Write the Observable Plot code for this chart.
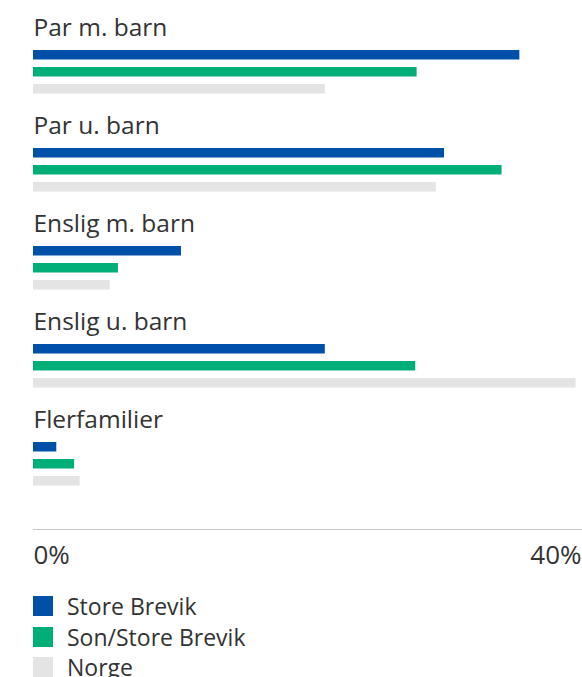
<!DOCTYPE html>
<html>
<head>
<meta charset="utf-8">
<script src="https://cdn.jsdelivr.net/npm/d3@7"></script>
<script src="https://cdn.jsdelivr.net/npm/@observablehq/plot@0.6"></script>
<style>
  html, body { margin: 0; padding: 0; background: #fff; }
  body { font-family: "Open Sans", sans-serif; color: #333; width: 582px; }
  #chart svg { display: block; }
  #legend { padding-top: 1px; padding-left: 33px; }
  .item { display: flex; align-items: center; height: 30.5px; font-size: 23px; color: #333; }
  .sw { width: 20px; height: 20px; margin-right: 14px; flex: none; }
</style>
</head>
<body>
<div id="chart"></div>
<div id="legend"></div>
<script>
// ---- Data ----
const groups = ["Par m. barn", "Par u. barn", "Enslig m. barn", "Enslig u. barn", "Flerfamilier"];
const seriesNames = ["Store Brevik", "Son/Store Brevik", "Norge"];
const seriesColors = ["#0050aa", "#00ae78", "#e4e4e4"];
const storeBrevik    = [35.5, 30.0, 10.8, 21.3, 1.7];
const sonStoreBrevik = [28.0, 34.2, 6.2, 27.9, 3.0];
const norge          = [21.3, 29.4, 5.6, 39.6, 3.4];
const xTicks = [0, 40];

const seriesValues = [storeBrevik, sonStoreBrevik, norge];
const rows = seriesNames.flatMap((s, si) =>
  groups.map((g, gi) => ({group: g, series: s, value: seriesValues[si][gi]}))
);

// layout constants (styles)
const bandStep = 98, barTop = 38, barPitch = 17, barH = 9.5;

const barMarks = seriesNames.map((s, si) =>
  Plot.barX(rows.filter(d => d.series === s), {
    x: "value",
    y: "group",
    fill: "series",
    insetTop: barTop + barPitch * si,
    insetBottom: bandStep - barTop - barPitch * si - barH
  })
);

const chart = Plot.plot({
  width: 582,
  height: 590,
  marginLeft: 33,
  marginRight: 1,
  marginTop: 12,
  marginBottom: 61,
  style: {color: "#c8c8c8", background: "#fff", fontFamily: "'Open Sans', sans-serif", overflow: "visible"},
  x: {domain: [0, 40], range: [33, 581], ticks: [], tickSize: 0, line: true, label: null, tickFormat: () => ""},
  y: {domain: groups, range: [12, 12 + bandStep * groups.length], padding: 0, axis: null},
  color: {domain: seriesNames, range: seriesColors},
  marks: [
    ...barMarks,
    Plot.text(groups, {
      x: () => 0, y: d => d, text: d => d,
      textAnchor: "start", lineAnchor: "bottom",
      dy: -26, fontSize: 24.5, fill: "#333"
    }),
    Plot.text([xTicks[0]], {
      x: d => d, text: d => d + "%", frameAnchor: "bottom",
      textAnchor: "start", dy: 34, fontSize: 26, fill: "#333"
    }),
    Plot.text([xTicks[1]], {
      x: d => d, text: d => d + "%", frameAnchor: "bottom",
      textAnchor: "end", dy: 34, fontSize: 26, fill: "#333"
    })
  ]
});
document.getElementById("chart").appendChild(chart);

const legend = document.getElementById("legend");
seriesNames.forEach((s, i) => {
  const item = document.createElement("div");
  item.className = "item";
  const sw = document.createElement("span");
  sw.className = "sw";
  sw.style.background = seriesColors[i];
  const label = document.createElement("span");
  label.textContent = s;
  item.appendChild(sw);
  item.appendChild(label);
  legend.appendChild(item);
});
</script>
</body>
</html>
